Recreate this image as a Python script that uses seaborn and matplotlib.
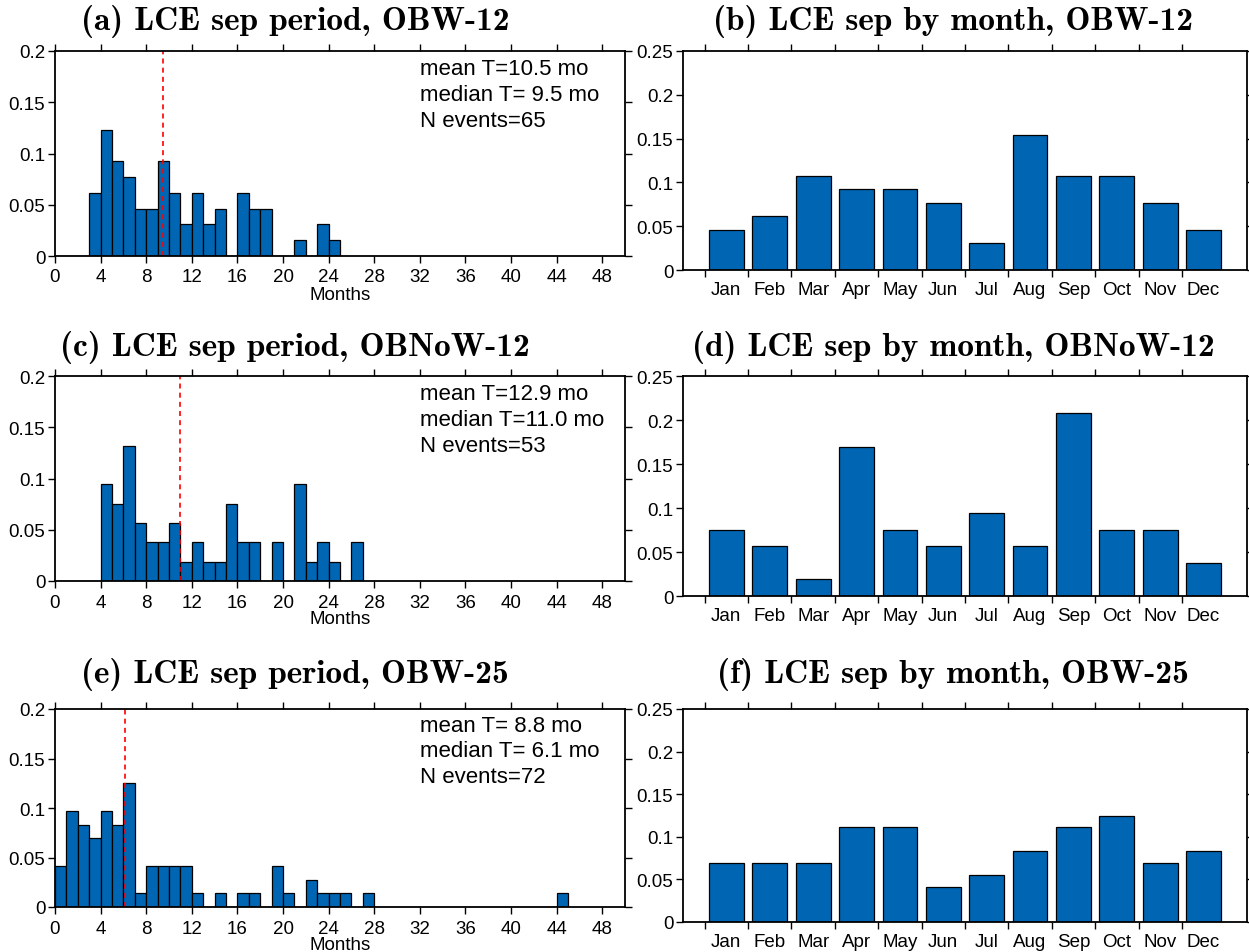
import numpy as np
import pandas as pd
import matplotlib
matplotlib.use("Agg")
import matplotlib.pyplot as plt
import seaborn as sns

# ---- data -------------------------------------------------------------
# events per 1-month separation-period bin, bin i covers [i, i+1) months
counts_obw12 = [0, 0, 0, 4, 8, 6, 5, 3, 3, 6, 4, 2, 4, 2, 3, 0, 4, 3, 3, 0,
                0, 1, 0, 2, 1]
counts_obnow12 = [0, 0, 0, 0, 5, 4, 7, 3, 2, 2, 3, 1, 2, 1, 1, 4, 2, 2, 0, 2,
                  0, 5, 1, 2, 1, 0, 2]
counts_obw25 = [3, 7, 6, 5, 7, 6, 9, 1, 3, 3, 3, 3, 1, 0, 1, 0, 1, 1, 0, 3,
                1, 0, 2, 1, 1, 1, 0, 1, 0, 0, 0, 0, 0, 0, 0, 0, 0, 0, 0, 0,
                0, 0, 0, 0, 1]

# events per calendar month of separation
months = ["Jan", "Feb", "Mar", "Apr", "May", "Jun",
          "Jul", "Aug", "Sep", "Oct", "Nov", "Dec"]
month_obw12 = [3, 4, 7, 6, 6, 5, 2, 10, 7, 7, 5, 3]
month_obnow12 = [4, 3, 1, 9, 4, 3, 5, 3, 11, 4, 4, 2]
month_obw25 = [5, 5, 5, 8, 8, 3, 4, 6, 8, 9, 5, 6]

experiments = ["OBW-12", "OBNoW-12", "OBW-25"]
n_events = [65, 53, 72]
mean_T = [10.5, 12.9, 8.8]
median_T = [9.5, 11.0, 6.1]
period_counts = [counts_obw12, counts_obnow12, counts_obw25]
month_counts = [month_obw12, month_obnow12, month_obw25]
letters_left = ["a", "c", "e"]
letters_right = ["b", "d", "f"]

# ---- style ------------------------------------------------------------
sns.set_theme(style="ticks")
plt.rcParams["font.family"] = ["Liberation Sans", "DejaVu Sans"]
plt.rcParams.update({"text.color": "black", "axes.labelcolor": "black",
                     "xtick.color": "black", "ytick.color": "black"})
BAR = "#0066b3"
W, H = 1249, 953


def px_axes(fig, x0, y0, x1, y1):
    return fig.add_axes([x0 / W, 1 - y1 / H, (x1 - x0) / W, (y1 - y0) / H])


def frame(ax):
    for s in ax.spines.values():
        s.set_visible(True)
        s.set_linewidth(1.3)
        s.set_color("black")
    ax.tick_params(which="both", direction="out", top=True, right=True,
                   labeltop=False, labelright=False, labelsize=13.5,
                   width=1.0, length=5, colors="black", pad=2)


fig = plt.figure(figsize=(W / 100, H / 100), dpi=100)

left_boxes = [(55, 52, 625, 257), (55, 377, 625, 582), (55, 710, 625, 908)]
right_boxes = [(683, 52, 1247, 271), (683, 377, 1247, 597), (683, 710, 1247, 923)]
title_y = [22, 348, 675]

for i in range(3):
    # separation-period histogram
    ax = px_axes(fig, *left_boxes[i])
    cnt = np.array(period_counts[i], dtype=float)
    df = pd.DataFrame({"months": np.arange(len(cnt)) + 0.5,
                       "frac": cnt / n_events[i]})
    sns.histplot(data=df, x="months", weights="frac", binwidth=1,
                 binrange=(0, len(cnt)), color=BAR, alpha=1.0,
                 edgecolor="black", linewidth=0.9, ax=ax)
    ax.axvline(median_T[i], color="red", ls=(0, (3, 2.5)), lw=1.2)
    ax.set_xlim(0, 50)
    ax.set_ylim(0, 0.2)
    ax.set_xticks(np.arange(0, 49, 4))
    ax.set_yticks([0, 0.05, 0.1, 0.15, 0.2])
    ax.set_yticklabels(["0", "0.05", "0.1", "0.15", "0.2"])
    ax.set_ylabel("")
    frame(ax)
    ax.tick_params(axis="x", pad=4)
    ax.set_xlabel("Months", fontsize=13.5, labelpad=0)
    ax.text(0.641, 0.915, f"mean T={mean_T[i]:4.1f} mo", transform=ax.transAxes,
            fontsize=16, va="center", ha="left")
    ax.text(0.641, 0.788, f"median T={median_T[i]:4.1f} mo", transform=ax.transAxes,
            fontsize=16, va="center", ha="left")
    ax.text(0.641, 0.661, f"N events={n_events[i]}", transform=ax.transAxes,
            fontsize=16, va="center", ha="left")
    fig.text(295 / W, 1 - title_y[i] / H,
             f"({letters_left[i]}) LCE sep period, {experiments[i]}",
             family=["cmb10", "DejaVu Serif"], fontsize=24, ha="center", va="center")

    # separation month distribution
    ax = px_axes(fig, *right_boxes[i])
    mdf = pd.DataFrame({"month": months,
                        "frac": np.array(month_counts[i]) / n_events[i]})
    sns.barplot(data=mdf, x="month", y="frac", color=BAR, saturation=1.0,
                width=0.8, edgecolor="black", linewidth=0.9, ax=ax)
    ax.set_xlim(-1, 12)
    ax.set_ylim(0, 0.25)
    ax.set_yticks([0, 0.05, 0.1, 0.15, 0.2, 0.25])
    ax.set_yticklabels(["0", "0.05", "0.1", "0.15", "0.2", "0.25"])
    ax.set_xticks(np.arange(12) - 0.5)
    ax.set_xticklabels([""] * 12)
    ax.set_xticks(np.arange(12), minor=True)
    ax.set_xticklabels(months, minor=True)
    ax.set_xlabel("")
    ax.set_ylabel("")
    frame(ax)
    ax.tick_params(axis="x", which="minor", length=0, pad=8, top=False)
    fig.text(953 / W, 1 - title_y[i] / H,
             f"({letters_right[i]}) LCE sep by month, {experiments[i]}",
             family=["cmb10", "DejaVu Serif"], fontsize=24, ha="center", va="center")

fig.savefig("out.png", dpi=100, facecolor="white")
